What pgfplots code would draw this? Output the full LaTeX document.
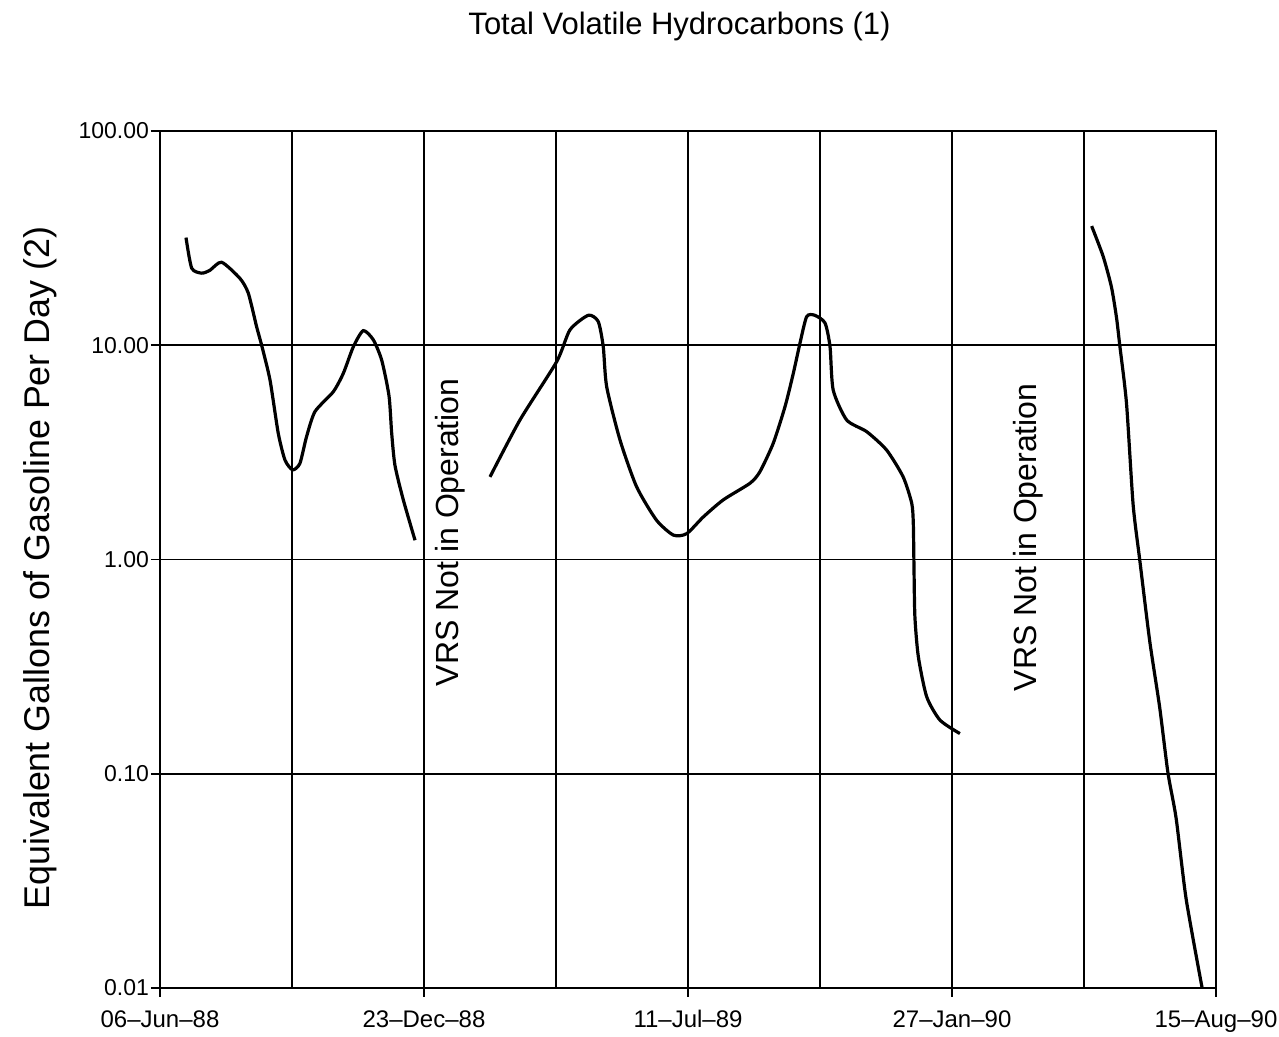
\documentclass[border=0pt]{standalone}
\usepackage{pgfplots}
\pgfplotsset{compat=1.18}
\usepackage{fontspec}
\setmainfont{Liberation Sans}
\begin{document}
\begin{tikzpicture}
\begin{axis}[
  name=main,
  at={(0,0)}, anchor=south west,
  scale only axis,
  width=528pt, height=428.5pt,
  xmin=0, xmax=800,
  ymode=log, ymin=0.01, ymax=100,
  ytick={0.01,0.1,1,10,100},
  yticklabels={0.01,0.10,1.00,10.00,100.00},
  yminorticks=false,
  xtick={0,200,400,600,800},
  xticklabels={06--Jun--88,23--Dec--88,11--Jul--89,27--Jan--90,15--Aug--90},
  minor xtick={100,300,500,700},
  minor tick length=0pt,
  tick align=outside,
  major tick length=4.5pt,
  tick style={black, line width=0.8pt},
  xtick pos=bottom, ytick pos=left,
  xmajorgrids=true, xminorgrids=true, ymajorgrids=true, yminorgrids=false,
  major grid style={black, line width=0.8pt},
  minor grid style={black, line width=0.8pt},
  axis line style={black, line width=1pt},
  tick label style={font=\fontsize{11.5}{14}\selectfont},
  xticklabel style={font=\fontsize{12}{14}\selectfont, text height=9pt, text depth=2.5pt, yshift=-2.5pt},
  yticklabel style={xshift=2.5pt},
  title={Total Volatile Hydrocarbons (1)},
  title style={at={(axis description cs:0.492,1.108)}, anchor=center, font=\fontsize{15.5}{18}\selectfont},
  ylabel={Equivalent Gallons of Gasoline Per Day (2)},
  ylabel style={at={(axis description cs:-0.1136,0.49)}, anchor=center, font=\fontsize{17.9}{20}\selectfont},
  clip=false,
]
\addplot[black, line width=1.6pt, smooth, tension=0.4] coordinates {
(19.7,31.8) (24,22.9) (31.6,21.7) (37.9,22.4) (46.7,24.4) (60.6,20.5)
(66.9,17.5) (73.2,12.2) (77,10) (83.3,6.9) (89.6,3.88) (94.7,2.91)
(100.5,2.62) (106,2.81) (111,3.74) (117.4,4.9) (131.3,6.07) (138.9,7.4)
(146.5,9.85) (154,11.7) (161.6,10.6) (168,8.5) (173.5,5.8) (175.5,3.9)
(178,2.75) (184.3,1.90) (193.2,1.23)
};
\addplot[black, line width=1.6pt, smooth, tension=0.4] coordinates {
(250,2.43) (272.7,4.48) (300.5,8.38) (310.6,11.8) (324.5,13.8) (332,12.9)
(335.8,9.85) (338.4,6.4) (348.5,3.61) (361,2.19) (376,1.53) (388.9,1.30)
(399,1.32) (411.6,1.58) (426.8,1.90) (447,2.27) (454.5,2.57) (464.6,3.49)
(473.5,5.17) (479.8,7.4) (484.8,10.2) (489.9,13.6) (496,13.8) (503.8,12.7)
(507.6,9.85) (510,6.18) (520.2,4.48) (535.4,3.95) (550.5,3.24) (563,2.43)
(569.5,1.83) (570.7,1.47) (571.2,0.925) (571.9,0.54) (574.5,0.352)
(580.8,0.229) (590.9,0.178) (606,0.154)
};
\addplot[black, line width=1.6pt, smooth, tension=0.4] coordinates {
(705.8,36.0) (714.5,26.0) (720.8,18.7) (724.6,13.5) (727.1,10) (732.2,5.36)
(737.2,1.81) (742.2,1.0) (749.8,0.416) (757.3,0.205) (763.6,0.101)
(769.8,0.062) (777.4,0.026) (789.5,0.01)
};
\node[rotate=90, anchor=center, font=\fontsize{16}{19}\selectfont] at (axis cs:219.7,1.34) {VRS Not in Operation};
\node[rotate=90, anchor=center, font=\fontsize{16}{19}\selectfont] at (axis cs:657.6,1.27) {VRS Not in Operation};
\end{axis}
\pgfresetboundingbox
\path[use as bounding box] (main.south west) ++(-80pt,-24.5pt) rectangle ++(639.5pt,518.5pt);
\end{tikzpicture}
\end{document}
